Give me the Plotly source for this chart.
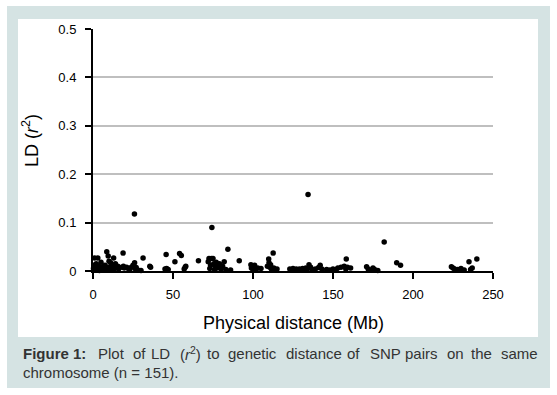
import plotly.graph_objects as go

# ---- data ----
dist_mb = [
    0.3, 0.5, 0.8, 1, 1.5, 2, 2.5, 3, 3.5, 4, 4.5, 5, 5.5, 6, 6.5, 7, 7.5, 8, 8.6, 9.5, 9, 10, 10.5, 11, 11.5, 12,
    12.9, 13, 13.5, 14, 14.5, 15.5, 16, 17, 18.8, 19, 19.5, 21, 22,
    23, 24, 25, 25.9, 26, 26.5, 27, 28, 30, 31.3, 35.5, 36,
    45.7, 45, 46, 47, 51.2, 54.1, 55.2, 57, 57.6, 58,
    65.9, 72, 72.5, 73, 73.5, 74, 74.3, 75, 75.5, 76, 76.5, 77, 77.5, 78, 79, 79.5, 80, 81, 82, 83, 84.3, 86, 91.4,
    98.7, 99, 99.5, 100, 100.5, 101, 102, 103, 105, 109, 109.8, 110, 110.5, 111, 111.5, 112.6, 113, 114, 115,
    123, 124, 125, 127, 128, 129, 131, 132, 133, 134.4, 134, 135, 136, 137, 139, 141, 142, 143,
    146, 148, 150, 152, 153, 155, 157, 158.3, 158, 159, 161,
    171, 172, 174, 175, 176, 178, 182, 189.8, 192.2,
    224, 225, 226, 228, 230, 232, 235, 236, 237, 239.9,
]
ld_r2 = [
    0.005, 0.012, 0.002, 0.027, 0.008, 0.015, 0.003, 0.027, 0.010, 0.001, 0.006, 0.018, 0.004, 0.009, 0.002, 0.006, 0.012, 0.003, 0.040, 0.031, 0.008, 0.020, 0.004, 0.017, 0.010, 0.002,
    0.027, 0.012, 0.005, 0.015, 0.008, 0.010, 0.004, 0.007, 0.037, 0.010, 0.006, 0.008, 0.005,
    0.003, 0.008, 0.012, 0.118, 0.017, 0.004, 0.007, 0.002, 0.001, 0.027, 0.010, 0.008,
    0.034, 0.004, 0.005, 0.003, 0.019, 0.036, 0.032, 0.004, 0.008, 0.010,
    0.021, 0.019, 0.026, 0.005, 0.012, 0.026, 0.090, 0.026, 0.015, 0.003, 0.010, 0.018, 0.006, 0.012, 0.015, 0.008, 0.004, 0.010, 0.019, 0.003, 0.045, 0.002, 0.021,
    0.013, 0.006, 0.010, 0.002, 0.008, 0.012, 0.004, 0.006, 0.005, 0.010, 0.025, 0.017, 0.008, 0.013, 0.004, 0.037, 0.006, 0.002, 0.004,
    0.004, 0.002, 0.005, 0.004, 0.002, 0.004, 0.005, 0.002, 0.006, 0.158, 0.004, 0.013, 0.008, 0.003, 0.004, 0.007, 0.012, 0.004,
    0.003, 0.002, 0.004, 0.003, 0.006, 0.008, 0.010, 0.025, 0.004, 0.008, 0.006,
    0.009, 0.004, 0.002, 0.006, 0.003, 0.001, 0.060, 0.017, 0.012,
    0.009, 0.006, 0.004, 0.003, 0.005, 0.002, 0.019, 0.003, 0.006, 0.025,
]
x_ticks = [0, 50, 100, 150, 200, 250]
y_ticks = [0, 0.1, 0.2, 0.3, 0.4, 0.5]
y_tick_labels = ["0", "0.1", "0.2", "0.3", "0.4", "0.5"]

caption_words = ["<b>Figure 1:</b>", "Plot", "of", "LD", "(<i>r</i><sup>2</sup>)", "to", "genetic",
                 "distance", "of", "SNP", "pairs", "on", "the", "same"]
caption_word_px = [20.5, 96, 131, 149, 177.5, 205, 226, 284, 345, 368, 402.5, 445, 469, 499]
caption_line2 = "chromosome (n = 151)."

W, H = 557, 395
L, R, T, B = 93, 493, 29, 271  # plot area in pixels
PW, PH = R - L, B - T


def px(xp):
    return (xp - L) / PW


def py(yp):
    return (B - yp) / PH


FONT = "Arial, Liberation Sans, sans-serif"
TXT = "#333333"

fig = go.Figure()
fig.add_trace(go.Scatter(
    x=dist_mb, y=ld_r2, mode="markers",
    marker=dict(color="black", size=5.5, line=dict(width=0)),
    cliponaxis=False, showlegend=False,
))

shapes = [
    dict(type="rect", xref="paper", yref="paper", layer="below",
         x0=px(7), x1=px(550), y0=py(388), y1=py(6),
         fillcolor="#d5e3e3", line=dict(width=0)),
    dict(type="rect", xref="paper", yref="paper", layer="below",
         x0=px(18), x1=px(538), y0=py(337), y1=py(19),
         fillcolor="white", line=dict(width=0)),
]

annotations = [
    dict(text="LD (<i>r</i><sup>2</sup>)", xref="paper", yref="paper",
         x=px(30), y=py(141), textangle=-90, showarrow=False,
         xanchor="center", yanchor="middle", font=dict(size=18, color="black", family=FONT)),
    dict(text="Physical distance (Mb)", xref="paper", yref="paper",
         x=px(293), y=py(323), showarrow=False,
         xanchor="center", yanchor="middle", font=dict(size=18, color="black", family=FONT)),
    dict(text=caption_line2, xref="paper", yref="paper",
         x=px(20.5), y=py(372), showarrow=False,
         xanchor="left", yanchor="middle", font=dict(size=15, color=TXT, family=FONT)),
]
for w, xp in zip(caption_words, caption_word_px):
    annotations.append(dict(text=w, xref="paper", yref="paper", x=px(xp), y=py(353),
                            showarrow=False, xanchor="left", yanchor="middle",
                            font=dict(size=15, color=TXT, family=FONT)))

fig.update_layout(
    width=W, height=H,
    margin=dict(l=L, r=W - R, t=T, b=H - B, pad=0),
    paper_bgcolor="white", plot_bgcolor="rgba(0,0,0,0)",
    shapes=shapes, annotations=annotations,
    font=dict(family=FONT, color="black"),
    xaxis=dict(range=[0, 250], tickvals=x_ticks, ticks="outside", ticklen=6, tickwidth=1.5,
               tickcolor="black", showline=True, linecolor="black", linewidth=2,
               showgrid=False, zeroline=False, tickfont=dict(size=13, color="black"),
               ticklabelstandoff=4),
    yaxis=dict(range=[0, 0.5], tickvals=y_ticks, ticktext=y_tick_labels, ticks="outside",
               ticklen=6, tickwidth=1.5, tickcolor="black", showline=True, linecolor="black",
               linewidth=2, showgrid=True, gridcolor="#bfbfbf", gridwidth=1.5, zeroline=False,
               tickfont=dict(size=13, color="black"), ticklabelstandoff=6),
)

fig.write_html(
    "out.html",
    config={"displayModeBar": False},
    post_script="document.body.style.margin='0';document.body.style.overflow='hidden';",
)
